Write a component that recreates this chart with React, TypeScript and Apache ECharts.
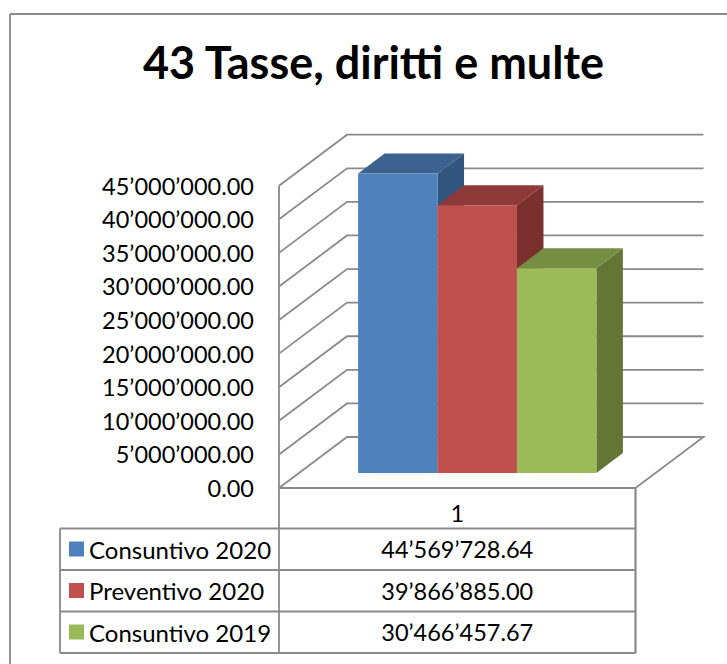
import React, { useEffect, useRef } from "react";
import * as echarts from "echarts";

const titleText = "43 Tasse, diritti e multe";
const categories = ["1"];
const seriesNames = ["Consuntivo 2020", "Preventivo 2020", "Consuntivo 2019"];
const consuntivo2020 = [44569728.64];
const preventivo2020 = [39866885.0];
const consuntivo2019 = [30466457.67];
const yTicks = [0, 5000000, 10000000, 15000000, 20000000, 25000000, 30000000, 35000000, 40000000, 45000000];
const faceColors = ["#4F81BD", "#C0504D", "#9BBB59"];
const topColors = ["#3E628F", "#8E3A38", "#768E43"];
const sideColors = ["#33567F", "#7A302E", "#647536"];

const FONT = "Lato";
const GRID = "#8A8A8A";
const LEFT = 279, RIGHT = 635.5, TOP = 185.7, BOTTOM = 488;
const WALL_DX = 68, WALL_DY = -51;
const BAR_DX = 20, BAR_DY = -15, DEPTH_DX = 26.5, DEPTH_DY = -20;
const BAR_SHARE = 0.2228;
const ROWS = [488, 528.5, 570, 611.5, 653];
const TABLE_LEFT = 60;

const fmt = (v: number) => {
  const [a, b] = v.toFixed(2).split(".");
  return a.replace(/\B(?=(\d{3})+$)/g, "\u2019") + "." + b;
};

const wallItem = (params: any, api: any) => {
  const v = api.value(0);
  const y = api.coord([0, v])[1];
  const cs = params.coordSys;
  const x0 = cs.x;
  const x1 = cs.x + cs.width;
  const pts = [
    [x0, y],
    [x0 + WALL_DX, y + WALL_DY],
    [x1 + WALL_DX, y + WALL_DY],
  ];
  if (v === 0) pts.push([x1, y]);
  return {
    type: "polyline",
    shape: { points: pts },
    style: { stroke: GRID, lineWidth: 1.8, fill: "none" },
    silent: true,
  };
};

const barItem = (i: number) => (_params: any, api: any) => {
  const center = api.coord([api.value(0), 0])[0];
  const y0 = api.coord([0, 0])[1] + BAR_DY;
  const y1 = api.coord([0, api.value(1)])[1] + BAR_DY;
  const w = api.size([1, 0])[0] * BAR_SHARE;
  const xa = center + BAR_DX + (i - 1.5) * w;
  const xb = xa + w;
  const poly = (points: number[][], fill: string) => ({
    type: "polygon",
    shape: { points },
    style: { fill },
    silent: true,
  });
  return {
    type: "group",
    children: [
      poly(
        [[xb, y0], [xb + DEPTH_DX, y0 + DEPTH_DY], [xb + DEPTH_DX, y1 + DEPTH_DY], [xb, y1]],
        sideColors[i]
      ),
      poly(
        [[xa, y1], [xa + DEPTH_DX, y1 + DEPTH_DY], [xb + DEPTH_DX, y1 + DEPTH_DY], [xb, y1]],
        topColors[i]
      ),
      poly([[xa, y0], [xb, y0], [xb, y1], [xa, y1]], faceColors[i]),
    ],
  };
};

const line = (x1: number, y1: number, x2: number, y2: number, lineWidth = 1.8) => ({
  type: "line",
  shape: { x1, y1, x2, y2 },
  style: { stroke: GRID, lineWidth },
  silent: true,
  z: 5,
});

const cellText = (text: string, y: number) => ({
  type: "text",
  x: (LEFT + RIGHT) / 2,
  y,
  style: {
    text,
    fill: "#000",
    font: `23.5px ${FONT}`,
    textAlign: "center",
    textVerticalAlign: "middle",
  },
  silent: true,
  z: 6,
});

export default function App() {
  const ref = useRef<HTMLDivElement>(null);
  useEffect(() => {
    document.body.style.margin = "0";
    const chart = echarts.init(ref.current!, undefined, { renderer: "svg" });
    const seriesValues = [consuntivo2020, preventivo2020, consuntivo2019];
    chart.setOption({
      animation: false,
      backgroundColor: "#fff",
      title: {
        text: titleText,
        left: 368.5,
        top: 34,
        textAlign: "center",
        textStyle: { fontFamily: FONT, fontWeight: "bold", fontSize: 45, color: "#000" },
      },
      grid: { left: LEFT, top: TOP, width: RIGHT - LEFT, height: BOTTOM - TOP, containLabel: false },
      xAxis: {
        type: "category",
        data: categories,
        show: false,
      },
      yAxis: {
        type: "value",
        min: 0,
        max: 45000000,
        interval: 5000000,
        axisLine: { show: false },
        axisTick: { show: false },
        splitLine: { show: false },
        axisLabel: {
          margin: 25,
          fontFamily: FONT,
          fontSize: 23.5,
          color: "#000",
          formatter: (v: number) => fmt(v),
        },
      },
      legend: {
        orient: "vertical",
        left: 69,
        top: 537,
        padding: 0,
        selectedMode: false,
        itemWidth: 15,
        itemHeight: 15,
        itemGap: 17.5,
        icon: "rect",
        data: seriesNames,
        textStyle: { fontFamily: FONT, fontSize: 24, color: "#000" },
      },
      series: [
        {
          type: "custom",
          name: "walls",
          data: yTicks.map((v) => [v]),
          encode: { y: 0 },
          renderItem: wallItem,
          z: 1,
          silent: true,
        },
        ...seriesNames.map((name, i) => ({
          type: "custom",
          name,
          data: seriesValues[i].map((v, k) => [k, v]),
          encode: { x: 0, y: 1 },
          renderItem: barItem(i),
          itemStyle: { color: faceColors[i] },
          z: 2 + i,
          silent: true,
        })),
      ],
      graphic: {
        elements: [
          line(10, 14, 727, 14),
          line(10, 14, 10, 664),
          line(LEFT, TOP, LEFT, ROWS[4]),
          line(RIGHT, ROWS[0], RIGHT, ROWS[4], 2.2),
          line(LEFT, ROWS[0], RIGHT, ROWS[0], 2.2),
          line(TABLE_LEFT, ROWS[1], RIGHT, ROWS[1]),
          line(TABLE_LEFT, ROWS[2], RIGHT, ROWS[2]),
          line(TABLE_LEFT, ROWS[3], RIGHT, ROWS[3]),
          line(TABLE_LEFT, ROWS[4], RIGHT, ROWS[4]),
          line(TABLE_LEFT, ROWS[1], TABLE_LEFT, ROWS[4]),
          cellText(categories[0], (ROWS[0] + ROWS[1]) / 2 + 5),
          cellText(fmt(consuntivo2020[0]), (ROWS[1] + ROWS[2]) / 2),
          cellText(fmt(preventivo2020[0]), (ROWS[2] + ROWS[3]) / 2),
          cellText(fmt(consuntivo2019[0]), (ROWS[3] + ROWS[4]) / 2),
        ],
      },
    });
    return () => chart.dispose();
  }, []);
  return <div ref={ref} style={{ position: "absolute", left: 0, top: 0, width: 727, height: 664 }} />;
}
